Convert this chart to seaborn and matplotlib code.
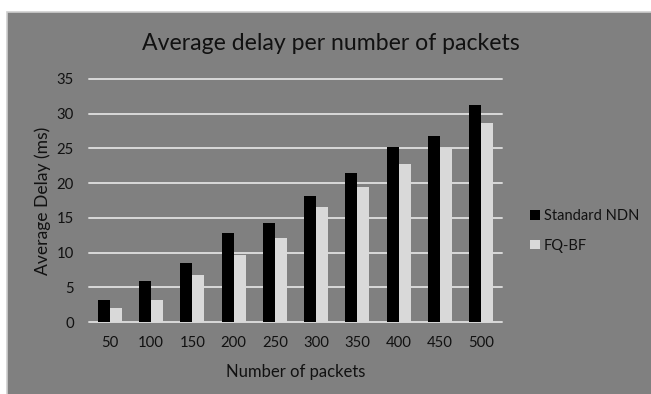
import matplotlib
matplotlib.use("Agg")
import matplotlib.pyplot as plt
from matplotlib.patches import Rectangle
import pandas as pd
import seaborn as sns

# Data: average delay (ms) for each number of packets
packets = ["50", "100", "150", "200", "250", "300", "350", "400", "450", "500"]
standard_ndn = [3.2, 5.85, 8.5, 12.8, 14.3, 18.2, 21.5, 25.2, 26.75, 31.25]
fq_bf = [2.0, 3.2, 6.8, 9.7, 12.05, 16.55, 19.45, 22.8, 25.05, 28.7]
series_names = ["Standard NDN", "FQ-BF"]
y_ticks = [0, 5, 10, 15, 20, 25, 30, 35]

df = pd.DataFrame({
    "packets": packets * 2,
    "delay": standard_ndn + fq_bf,
    "series": [series_names[0]] * len(packets) + [series_names[1]] * len(packets),
})

sns.set_theme(style="white")
plt.rcParams["font.family"] = ["Lato", "DejaVu Sans"]

BG = "#808080"
GRID = "#d9d9d9"
TEXT = "#111111"

W, H = 651, 394
fig = plt.figure(figsize=(W / 100, H / 100), dpi=100, facecolor="white")

# gray chart area with light border, kept behind the axes
bg = Rectangle((7 / W, -0.01), 1 - 7 / W + 0.01, 1 - 12 / H + 0.01,
               transform=fig.transFigure, facecolor=BG,
               edgecolor="#cfcfcf", linewidth=1.2, zorder=-10)
fig.add_artist(bg)

ax = fig.add_axes([89 / W, 72 / H, 413 / W, 243 / H])
ax.set_facecolor(BG)
ax.patch.set_alpha(0)

sns.barplot(data=df, x="packets", y="delay", hue="series", order=packets,
            hue_order=series_names, palette=["#000000", "#d9d9d9"],
            width=0.58, gap=0, saturation=1, linewidth=0, ax=ax, zorder=3)

ax.set_ylim(0, 35)
ax.set_yticks(y_ticks)
ax.yaxis.grid(True, color=GRID, linewidth=1.4)
ax.xaxis.grid(False)
ax.set_axisbelow(True)
for ln in ax.get_ygridlines():
    ln.set_clip_on(False)
for s in ax.spines.values():
    s.set_visible(False)

ax.tick_params(axis="both", length=0, labelsize=10.7, labelcolor=TEXT)
ax.tick_params(axis="y", pad=11)
ax.tick_params(axis="x", pad=10)

ax.set_xlabel("Number of packets", fontsize=12, color=TEXT, labelpad=10)
ax.set_ylabel("Average Delay (ms)", fontsize=12.6, color=TEXT, labelpad=4)

fig.text(331 / W, 1 - 43 / H, "Average delay per number of packets",
         ha="center", va="center", fontsize=16.6, color=TEXT)

handles, labels = ax.get_legend_handles_labels()
ax.legend(handles, labels, loc="center left",
          bbox_to_anchor=(530 / W, 1 - 231 / H), bbox_transform=fig.transFigure,
          frameon=False, fontsize=10.5, labelcolor=TEXT, borderpad=0,
          borderaxespad=0, handlelength=0.7, handleheight=0.65,
          handletextpad=0.25, labelspacing=1.05)

fig.savefig("out.png", dpi=100, facecolor="white")
